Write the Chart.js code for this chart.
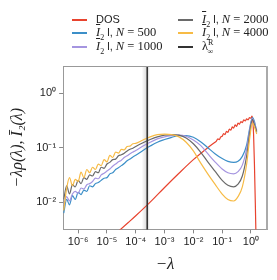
<!doctype html>
<html>
<head>
<script src="https://cdn.jsdelivr.net/npm/chart.js@4.4.0/dist/chart.umd.min.js"></script>
<style>
  body { margin: 0; background: #fff; }
  #wrap { position: relative; width: 277px; height: 280px; }
  #legend { position: absolute; left: 0; top: 0; width: 277px; height: 60px;
            font-family: "Liberation Sans", Arial, sans-serif; font-size: 11px; color: #222; }
  .item { position: absolute; height: 14px; line-height: 14px; white-space: nowrap; }
  .sw { display: inline-block; width: 15px; height: 1.5px; vertical-align: middle; margin-right: 9px; }
  .m { font-family: "Liberation Serif", "DejaVu Serif", serif; font-size: 12.5px; }
  .ov { text-decoration: overline; font-style: italic; }
  sub, sup { font-size: 8px; line-height: 0; }
</style>
</head>
<body>
<div id="wrap">
  <canvas id="chart" width="277" height="280"></canvas>
  <div id="legend"></div>
</div>
<script>
// lambda grid (absolute value) used by all I2 curves
const lamGrid = [
  3.16e-7, 3.98e-7, 5.01e-7, 6.31e-7, 7.94e-7, 1e-6, 1.26e-6, 1.58e-6, 2.0e-6, 2.51e-6,
  3.16e-6, 3.98e-6, 5.01e-6, 6.31e-6, 7.94e-6, 1e-5, 1.26e-5, 1.58e-5, 2.0e-5, 2.51e-5,
  3.16e-5, 3.98e-5, 5.01e-5, 6.31e-5, 7.94e-5, 1e-4,
  1.78e-4, 3.16e-4, 5.62e-4, 1e-3, 1.78e-3, 3.16e-3, 5.62e-3, 1e-2, 1.78e-2, 3.16e-2,
  5.62e-2, 0.1, 0.158, 0.251, 0.355, 0.501, 0.708, 0.891, 1.122, 1.318, 1.585
]

const i2N500 = [
  0.00631, 0.0112, 0.00891, 0.0132, 0.0112, 0.0151, 0.0138, 0.0166, 0.0158, 0.0200,
  0.0191, 0.0219, 0.0229, 0.0251, 0.0275, 0.0282, 0.0331, 0.0347, 0.0398, 0.0427,
  0.0468, 0.0513, 0.0575, 0.0617, 0.0676, 0.0724,
  0.0891, 0.107, 0.126, 0.141, 0.155, 0.166, 0.166, 0.155, 0.129, 0.100,
  0.0776, 0.0631, 0.0562, 0.0537, 0.0562, 0.0692, 0.112, 0.219, 0.355, 0.302, 0.191
]
const i2N1000 = [
  0.00891, 0.0126, 0.0105, 0.0141, 0.0158, 0.0145, 0.0182, 0.0174, 0.0209, 0.0219,
  0.0240, 0.0275, 0.0269, 0.0316, 0.0339, 0.0372, 0.0407, 0.0457, 0.0501, 0.0550,
  0.0589, 0.0661, 0.0708, 0.0776, 0.0832, 0.0891,
  0.107, 0.126, 0.145, 0.158, 0.166, 0.170, 0.162, 0.138, 0.110, 0.0776,
  0.0550, 0.0407, 0.0347, 0.0331, 0.0363, 0.0479, 0.0955, 0.200, 0.347, 0.282, 0.209
]
const i2N2000 = [
  0.0112, 0.0200, 0.0141, 0.0209, 0.0191, 0.0251, 0.0219, 0.0282, 0.0263, 0.0316,
  0.0302, 0.0363, 0.0347, 0.0437, 0.0417, 0.0501, 0.0537, 0.0603, 0.0617, 0.0708,
  0.0741, 0.0794, 0.0871, 0.0933, 0.0977, 0.105,
  0.123, 0.141, 0.158, 0.170, 0.174, 0.170, 0.151, 0.118, 0.0832, 0.0550,
  0.0372, 0.0251, 0.0204, 0.0191, 0.0214, 0.0302, 0.0708, 0.178, 0.331, 0.263, 0.200
]
const i2N4000 = [
  0.00708, 0.0178, 0.0282, 0.0200, 0.0263, 0.0240, 0.0355, 0.0282, 0.0398, 0.0347,
  0.0437, 0.0398, 0.0501, 0.0468, 0.0603, 0.0550, 0.0724, 0.0661, 0.0832, 0.0794,
  0.0933, 0.0912, 0.105, 0.107, 0.118, 0.120,
  0.138, 0.158, 0.174, 0.178, 0.174, 0.158, 0.126, 0.0871, 0.0525, 0.0331,
  0.0214, 0.0141, 0.0112, 0.0105, 0.0126, 0.0191, 0.0501, 0.141, 0.282, 0.240, 0.178
]

// density of states curve
const dosLam = [
  2e-5, 5.62e-5, 1e-4, 3.16e-4, 1e-3, 3.16e-3, 1e-2, 3.16e-2,
  0.0562, 0.0631, 0.0708, 0.0794, 0.0891, 0.1, 0.112, 0.126, 0.141, 0.158,
  0.178, 0.2, 0.224, 0.251, 0.282, 0.316, 0.355, 0.398, 0.447, 0.501,
  0.562, 0.631, 0.708, 0.794, 0.891, 1.0, 1.072, 1.148, 1.230, 1.318, 1.413, 1.514
]
const dosVal = [
  0.00263, 0.00427, 0.00562, 0.0100, 0.0186, 0.0339, 0.0603, 0.100,
  0.126, 0.132, 0.145, 0.141, 0.158, 0.162, 0.182, 0.174, 0.200, 0.191,
  0.219, 0.209, 0.240, 0.229, 0.263, 0.245, 0.282, 0.269, 0.302, 0.288,
  0.324, 0.309, 0.339, 0.324, 0.355, 0.347, 0.380, 0.331, 0.178, 0.050, 0.010, 0.0016
]

const lamInfR = 2.5e-4
const lamInfRBand = [1.6e-4, 3.1e-4]

const xTicks = [1e-6, 1e-5, 1e-4, 1e-3, 1e-2, 1e-1, 1]
const yTicks = [1e-2, 1e-1, 1]

const seriesLabels = [
  'DOS',
  '<span class="m"><span class="ov">I</span><sub>2</sub></span> l, <span class="m"><i>N</i> = 500</span>',
  '<span class="m"><span class="ov">I</span><sub>2</sub></span> l, <span class="m"><i>N</i> = 1000</span>',
  '<span class="m"><span class="ov">I</span><sub>2</sub></span> l, <span class="m"><i>N</i> = 2000</span>',
  '<span class="m"><span class="ov">I</span><sub>2</sub></span> l, <span class="m"><i>N</i> = 4000</span>',
  '<span class="m">λ<sup>R</sup><sub style="margin-left:-6px">∞</sub></span>'
]
const seriesColors = ['#e8432e', '#3c8fc8', '#a595e0', '#6a6a6a', '#f7bb45', '#333333']

const toXY = (xs, ys) => xs.map((x, i) => ({x: x, y: ys[i]}))

const sup = {'-': '⁻', '0': '⁰', '1': '¹', '2': '²', '3': '³', '4': '⁴', '5': '⁵', '6': '⁶', '7': '⁷', '8': '⁸', '9': '⁹'}
const powLabel = v => '10' + String(Math.round(Math.log10(v))).split('').map(c => sup[c]).join('')

const line = (i, data, extra) => Object.assign({
  label: seriesLabels[i],
  data: data,
  borderColor: seriesColors[i],
  borderWidth: 1.2,
  pointRadius: 0,
  cubicInterpolationMode: 'monotone'
}, extra || {})

const bandPlugin = {
  id: 'band',
  beforeDatasetsDraw(chart) {
    const {ctx, chartArea: a, scales: {x}} = chart
    const x0 = x.getPixelForValue(lamInfRBand[0]), x1 = x.getPixelForValue(lamInfRBand[1])
    const xm = x.getPixelForValue(lamInfR)
    const g = ctx.createLinearGradient(x0, 0, x1, 0)
    const mid = (xm - x0) / (x1 - x0)
    g.addColorStop(0, 'rgba(0,0,0,0)')
    g.addColorStop(mid, 'rgba(0,0,0,0.16)')
    g.addColorStop(1, 'rgba(0,0,0,0)')
    ctx.save()
    ctx.fillStyle = g
    ctx.fillRect(x0, a.top, x1 - x0, a.bottom - a.top)
    ctx.restore()
  }
}

const framePlugin = {
  id: 'frame',
  afterDraw(chart) {
    const {ctx, chartArea: a} = chart
    ctx.save()
    ctx.strokeStyle = '#999'
    ctx.lineWidth = 1
    ctx.beginPath()
    ctx.moveTo(a.left, a.top + 0.5)
    ctx.lineTo(a.right, a.top + 0.5)
    ctx.stroke()
    ctx.strokeStyle = '#aaa'
    ctx.lineWidth = 2
    ctx.beginPath()
    ctx.moveTo(a.right, a.top)
    ctx.lineTo(a.right, a.bottom)
    ctx.stroke()
    ctx.restore()
  }
}

new Chart(document.getElementById('chart'), {
  type: 'line',
  data: {
    datasets: [
      line(5, [{x: lamInfR, y: 1e-3}, {x: lamInfR, y: 10}], {borderWidth: 1.6, cubicInterpolationMode: 'default'}),
      line(4, toXY(lamGrid, i2N4000)),
      line(3, toXY(lamGrid, i2N2000)),
      line(2, toXY(lamGrid, i2N1000)),
      line(1, toXY(lamGrid, i2N500)),
      line(0, toXY(dosLam, dosVal))
    ]
  },
  options: {
    responsive: false,
    animation: false,
    events: [],
    layout: {padding: {top: 66, right: 10, left: 8, bottom: 5}},
    plugins: {legend: {display: false}, tooltip: {enabled: false}},
    scales: {
      x: {
        type: 'logarithmic',
        min: 3e-7, max: 3.6,
        afterBuildTicks: s => { s.ticks = xTicks.map(v => ({value: v})) },
        ticks: {callback: v => powLabel(v), autoSkip: false, maxRotation: 0, padding: 2,
                color: '#222', font: {family: '"Liberation Sans", Arial, sans-serif', size: 11}},
        grid: {drawOnChartArea: false, tickLength: 4, color: '#888'},
        border: {color: '#999'},
        title: {display: true, text: '−λ', color: '#222', padding: {top: 4, bottom: 0},
                font: {family: '"Liberation Serif", "DejaVu Serif", serif', size: 17, style: 'italic'}}
      },
      y: {
        type: 'logarithmic',
        min: 0.00316, max: 3.16,
        afterBuildTicks: s => { s.ticks = yTicks.map(v => ({value: v})) },
        ticks: {callback: v => powLabel(v), autoSkip: false, padding: 3,
                color: '#222', font: {family: '"Liberation Sans", Arial, sans-serif', size: 11}},
        grid: {drawOnChartArea: false, tickLength: 4, color: '#888'},
        border: {color: '#999'},
        title: {display: true, text: '−λρ(λ), Ī₂(λ)', color: '#222', padding: {top: 0, bottom: 6},
                font: {family: '"Liberation Serif", "DejaVu Serif", serif', size: 16, style: 'italic'}}
      }
    }
  },
  plugins: [bandPlugin, framePlugin]
})

// legend, two columns, column-major
const legend = document.getElementById('legend')
const cols = [72, 178], rows = [12, 25, 39]
seriesLabels.forEach((lab, i) => {
  const d = document.createElement('div')
  d.className = 'item'
  d.style.left = cols[Math.floor(i / 3)] + 'px'
  d.style.top = rows[i % 3] + 'px'
  d.innerHTML = '<span class="sw" style="background:' + seriesColors[i] + '"></span>' + lab
  legend.appendChild(d)
})
</script>
</body>
</html>
